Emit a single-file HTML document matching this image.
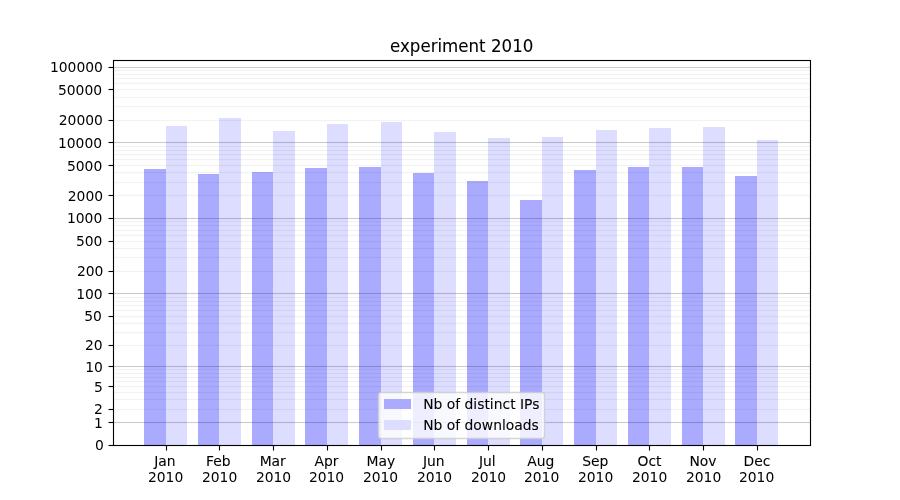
<!DOCTYPE html>
<html lang="en">
<head>
<meta charset="utf-8">
<title>experiment 2010</title>
<style>
html,body{margin:0;padding:0;background:#fff;}
body{width:900px;height:500px;overflow:hidden;}
svg{display:block;}
text{font-family:"DejaVu Sans","Liberation Sans",sans-serif;fill:#000;}
.t{font-size:13.889px;}
.tt{font-size:16.667px;}
.w{stroke:#000;stroke-width:0.07px;}
</style>
</head>
<body>
<svg width="900" height="500" viewBox="0 0 900 500">
<rect width="900" height="500" fill="#fff"/>
<g shape-rendering="crispEdges">
<rect x="144" y="169" width="22" height="276" fill="#aaaaff"/>
<rect x="166" y="126" width="21" height="319" fill="#ddddff"/>
<rect x="198" y="174" width="21" height="271" fill="#aaaaff"/>
<rect x="219" y="118" width="22" height="327" fill="#ddddff"/>
<rect x="252" y="172" width="21" height="273" fill="#aaaaff"/>
<rect x="273" y="131" width="22" height="314" fill="#ddddff"/>
<rect x="305" y="168" width="22" height="277" fill="#aaaaff"/>
<rect x="327" y="124" width="21" height="321" fill="#ddddff"/>
<rect x="359" y="167" width="22" height="278" fill="#aaaaff"/>
<rect x="381" y="122" width="21" height="323" fill="#ddddff"/>
<rect x="413" y="173" width="21" height="272" fill="#aaaaff"/>
<rect x="434" y="132" width="22" height="313" fill="#ddddff"/>
<rect x="467" y="181" width="21" height="264" fill="#aaaaff"/>
<rect x="488" y="138" width="22" height="307" fill="#ddddff"/>
<rect x="520" y="200" width="22" height="245" fill="#aaaaff"/>
<rect x="542" y="137" width="21" height="308" fill="#ddddff"/>
<rect x="574" y="170" width="22" height="275" fill="#aaaaff"/>
<rect x="596" y="130" width="21" height="315" fill="#ddddff"/>
<rect x="628" y="167" width="21" height="278" fill="#aaaaff"/>
<rect x="649" y="128" width="22" height="317" fill="#ddddff"/>
<rect x="682" y="167" width="21" height="278" fill="#aaaaff"/>
<rect x="703" y="127" width="22" height="318" fill="#ddddff"/>
<rect x="735" y="176" width="22" height="269" fill="#aaaaff"/>
<rect x="757" y="140" width="21" height="305" fill="#ddddff"/>
</g>
<g fill="#000" shape-rendering="crispEdges">
<rect x="114" y="422" width="696" height="1" fill-opacity="0.2"/><rect x="114" y="421" width="696" height="1" fill-opacity="0.0111"/><rect x="114" y="423" width="696" height="1" fill-opacity="0.0111"/>
<rect x="114" y="409" width="696" height="1" fill-opacity="0.05"/><rect x="114" y="408" width="696" height="1" fill-opacity="0.0028"/><rect x="114" y="410" width="696" height="1" fill-opacity="0.0028"/>
<rect x="114" y="399" width="696" height="1" fill-opacity="0.05"/><rect x="114" y="398" width="696" height="1" fill-opacity="0.0028"/><rect x="114" y="400" width="696" height="1" fill-opacity="0.0028"/>
<rect x="114" y="392" width="696" height="1" fill-opacity="0.05"/><rect x="114" y="391" width="696" height="1" fill-opacity="0.0028"/><rect x="114" y="393" width="696" height="1" fill-opacity="0.0028"/>
<rect x="114" y="386" width="696" height="1" fill-opacity="0.05"/><rect x="114" y="385" width="696" height="1" fill-opacity="0.0028"/><rect x="114" y="387" width="696" height="1" fill-opacity="0.0028"/>
<rect x="114" y="381" width="696" height="1" fill-opacity="0.05"/><rect x="114" y="380" width="696" height="1" fill-opacity="0.0028"/><rect x="114" y="382" width="696" height="1" fill-opacity="0.0028"/>
<rect x="114" y="377" width="696" height="1" fill-opacity="0.05"/><rect x="114" y="376" width="696" height="1" fill-opacity="0.0028"/><rect x="114" y="378" width="696" height="1" fill-opacity="0.0028"/>
<rect x="114" y="373" width="696" height="1" fill-opacity="0.05"/><rect x="114" y="372" width="696" height="1" fill-opacity="0.0028"/><rect x="114" y="374" width="696" height="1" fill-opacity="0.0028"/>
<rect x="114" y="369" width="696" height="1" fill-opacity="0.05"/><rect x="114" y="368" width="696" height="1" fill-opacity="0.0028"/><rect x="114" y="370" width="696" height="1" fill-opacity="0.0028"/>
<rect x="114" y="366" width="696" height="1" fill-opacity="0.2"/><rect x="114" y="365" width="696" height="1" fill-opacity="0.0111"/><rect x="114" y="367" width="696" height="1" fill-opacity="0.0111"/>
<rect x="114" y="345" width="696" height="1" fill-opacity="0.05"/><rect x="114" y="344" width="696" height="1" fill-opacity="0.0028"/><rect x="114" y="346" width="696" height="1" fill-opacity="0.0028"/>
<rect x="114" y="332" width="696" height="1" fill-opacity="0.05"/><rect x="114" y="331" width="696" height="1" fill-opacity="0.0028"/><rect x="114" y="333" width="696" height="1" fill-opacity="0.0028"/>
<rect x="114" y="323" width="696" height="1" fill-opacity="0.05"/><rect x="114" y="322" width="696" height="1" fill-opacity="0.0028"/><rect x="114" y="324" width="696" height="1" fill-opacity="0.0028"/>
<rect x="114" y="316" width="696" height="1" fill-opacity="0.05"/><rect x="114" y="315" width="696" height="1" fill-opacity="0.0028"/><rect x="114" y="317" width="696" height="1" fill-opacity="0.0028"/>
<rect x="114" y="310" width="696" height="1" fill-opacity="0.05"/><rect x="114" y="309" width="696" height="1" fill-opacity="0.0028"/><rect x="114" y="311" width="696" height="1" fill-opacity="0.0028"/>
<rect x="114" y="305" width="696" height="1" fill-opacity="0.05"/><rect x="114" y="304" width="696" height="1" fill-opacity="0.0028"/><rect x="114" y="306" width="696" height="1" fill-opacity="0.0028"/>
<rect x="114" y="301" width="696" height="1" fill-opacity="0.05"/><rect x="114" y="300" width="696" height="1" fill-opacity="0.0028"/><rect x="114" y="302" width="696" height="1" fill-opacity="0.0028"/>
<rect x="114" y="297" width="696" height="1" fill-opacity="0.05"/><rect x="114" y="296" width="696" height="1" fill-opacity="0.0028"/><rect x="114" y="298" width="696" height="1" fill-opacity="0.0028"/>
<rect x="114" y="293" width="696" height="1" fill-opacity="0.2"/><rect x="114" y="292" width="696" height="1" fill-opacity="0.0111"/><rect x="114" y="294" width="696" height="1" fill-opacity="0.0111"/>
<rect x="114" y="271" width="696" height="1" fill-opacity="0.05"/><rect x="114" y="270" width="696" height="1" fill-opacity="0.0028"/><rect x="114" y="272" width="696" height="1" fill-opacity="0.0028"/>
<rect x="114" y="257" width="696" height="1" fill-opacity="0.05"/><rect x="114" y="256" width="696" height="1" fill-opacity="0.0028"/><rect x="114" y="258" width="696" height="1" fill-opacity="0.0028"/>
<rect x="114" y="248" width="696" height="1" fill-opacity="0.05"/><rect x="114" y="247" width="696" height="1" fill-opacity="0.0028"/><rect x="114" y="249" width="696" height="1" fill-opacity="0.0028"/>
<rect x="114" y="241" width="696" height="1" fill-opacity="0.05"/><rect x="114" y="240" width="696" height="1" fill-opacity="0.0028"/><rect x="114" y="242" width="696" height="1" fill-opacity="0.0028"/>
<rect x="114" y="235" width="696" height="1" fill-opacity="0.05"/><rect x="114" y="234" width="696" height="1" fill-opacity="0.0028"/><rect x="114" y="236" width="696" height="1" fill-opacity="0.0028"/>
<rect x="114" y="230" width="696" height="1" fill-opacity="0.05"/><rect x="114" y="229" width="696" height="1" fill-opacity="0.0028"/><rect x="114" y="231" width="696" height="1" fill-opacity="0.0028"/>
<rect x="114" y="225" width="696" height="1" fill-opacity="0.05"/><rect x="114" y="224" width="696" height="1" fill-opacity="0.0028"/><rect x="114" y="226" width="696" height="1" fill-opacity="0.0028"/>
<rect x="114" y="221" width="696" height="1" fill-opacity="0.05"/><rect x="114" y="220" width="696" height="1" fill-opacity="0.0028"/><rect x="114" y="222" width="696" height="1" fill-opacity="0.0028"/>
<rect x="114" y="218" width="696" height="1" fill-opacity="0.2"/><rect x="114" y="217" width="696" height="1" fill-opacity="0.0111"/><rect x="114" y="219" width="696" height="1" fill-opacity="0.0111"/>
<rect x="114" y="195" width="696" height="1" fill-opacity="0.05"/><rect x="114" y="194" width="696" height="1" fill-opacity="0.0028"/><rect x="114" y="196" width="696" height="1" fill-opacity="0.0028"/>
<rect x="114" y="182" width="696" height="1" fill-opacity="0.05"/><rect x="114" y="181" width="696" height="1" fill-opacity="0.0028"/><rect x="114" y="183" width="696" height="1" fill-opacity="0.0028"/>
<rect x="114" y="172" width="696" height="1" fill-opacity="0.05"/><rect x="114" y="171" width="696" height="1" fill-opacity="0.0028"/><rect x="114" y="173" width="696" height="1" fill-opacity="0.0028"/>
<rect x="114" y="165" width="696" height="1" fill-opacity="0.05"/><rect x="114" y="164" width="696" height="1" fill-opacity="0.0028"/><rect x="114" y="166" width="696" height="1" fill-opacity="0.0028"/>
<rect x="114" y="159" width="696" height="1" fill-opacity="0.05"/><rect x="114" y="158" width="696" height="1" fill-opacity="0.0028"/><rect x="114" y="160" width="696" height="1" fill-opacity="0.0028"/>
<rect x="114" y="154" width="696" height="1" fill-opacity="0.05"/><rect x="114" y="153" width="696" height="1" fill-opacity="0.0028"/><rect x="114" y="155" width="696" height="1" fill-opacity="0.0028"/>
<rect x="114" y="150" width="696" height="1" fill-opacity="0.05"/><rect x="114" y="149" width="696" height="1" fill-opacity="0.0028"/><rect x="114" y="151" width="696" height="1" fill-opacity="0.0028"/>
<rect x="114" y="146" width="696" height="1" fill-opacity="0.05"/><rect x="114" y="145" width="696" height="1" fill-opacity="0.0028"/><rect x="114" y="147" width="696" height="1" fill-opacity="0.0028"/>
<rect x="114" y="142" width="696" height="1" fill-opacity="0.2"/><rect x="114" y="141" width="696" height="1" fill-opacity="0.0111"/><rect x="114" y="143" width="696" height="1" fill-opacity="0.0111"/>
<rect x="114" y="120" width="696" height="1" fill-opacity="0.05"/><rect x="114" y="119" width="696" height="1" fill-opacity="0.0028"/><rect x="114" y="121" width="696" height="1" fill-opacity="0.0028"/>
<rect x="114" y="106" width="696" height="1" fill-opacity="0.05"/><rect x="114" y="105" width="696" height="1" fill-opacity="0.0028"/><rect x="114" y="107" width="696" height="1" fill-opacity="0.0028"/>
<rect x="114" y="97" width="696" height="1" fill-opacity="0.05"/><rect x="114" y="96" width="696" height="1" fill-opacity="0.0028"/><rect x="114" y="98" width="696" height="1" fill-opacity="0.0028"/>
<rect x="114" y="89" width="696" height="1" fill-opacity="0.05"/><rect x="114" y="88" width="696" height="1" fill-opacity="0.0028"/><rect x="114" y="90" width="696" height="1" fill-opacity="0.0028"/>
<rect x="114" y="83" width="696" height="1" fill-opacity="0.05"/><rect x="114" y="82" width="696" height="1" fill-opacity="0.0028"/><rect x="114" y="84" width="696" height="1" fill-opacity="0.0028"/>
<rect x="114" y="78" width="696" height="1" fill-opacity="0.05"/><rect x="114" y="77" width="696" height="1" fill-opacity="0.0028"/><rect x="114" y="79" width="696" height="1" fill-opacity="0.0028"/>
<rect x="114" y="74" width="696" height="1" fill-opacity="0.05"/><rect x="114" y="73" width="696" height="1" fill-opacity="0.0028"/><rect x="114" y="75" width="696" height="1" fill-opacity="0.0028"/>
<rect x="114" y="70" width="696" height="1" fill-opacity="0.05"/><rect x="114" y="69" width="696" height="1" fill-opacity="0.0028"/><rect x="114" y="71" width="696" height="1" fill-opacity="0.0028"/>
<rect x="114" y="67" width="696" height="1" fill-opacity="0.2"/><rect x="114" y="66" width="696" height="1" fill-opacity="0.0111"/><rect x="114" y="68" width="696" height="1" fill-opacity="0.0111"/>
</g>
<g stroke="#000" stroke-width="1.1111" fill="none">
<line x1="166.5" x2="166.5" y1="445.5" y2="450.5"/>
<line x1="219.5" x2="219.5" y1="445.5" y2="450.5"/>
<line x1="273.5" x2="273.5" y1="445.5" y2="450.5"/>
<line x1="327.5" x2="327.5" y1="445.5" y2="450.5"/>
<line x1="381.5" x2="381.5" y1="445.5" y2="450.5"/>
<line x1="434.5" x2="434.5" y1="445.5" y2="450.5"/>
<line x1="488.5" x2="488.5" y1="445.5" y2="450.5"/>
<line x1="542.5" x2="542.5" y1="445.5" y2="450.5"/>
<line x1="596.5" x2="596.5" y1="445.5" y2="450.5"/>
<line x1="649.5" x2="649.5" y1="445.5" y2="450.5"/>
<line x1="703.5" x2="703.5" y1="445.5" y2="450.5"/>
<line x1="757.5" x2="757.5" y1="445.5" y2="450.5"/>
<line x1="108.5" x2="113.5" y1="445.5" y2="445.5"/>
<line x1="108.5" x2="113.5" y1="422.5" y2="422.5"/>
<line x1="108.5" x2="113.5" y1="409.5" y2="409.5"/>
<line x1="108.5" x2="113.5" y1="386.5" y2="386.5"/>
<line x1="108.5" x2="113.5" y1="366.5" y2="366.5"/>
<line x1="108.5" x2="113.5" y1="345.5" y2="345.5"/>
<line x1="108.5" x2="113.5" y1="316.5" y2="316.5"/>
<line x1="108.5" x2="113.5" y1="293.5" y2="293.5"/>
<line x1="108.5" x2="113.5" y1="271.5" y2="271.5"/>
<line x1="108.5" x2="113.5" y1="241.5" y2="241.5"/>
<line x1="108.5" x2="113.5" y1="218.5" y2="218.5"/>
<line x1="108.5" x2="113.5" y1="195.5" y2="195.5"/>
<line x1="108.5" x2="113.5" y1="165.5" y2="165.5"/>
<line x1="108.5" x2="113.5" y1="142.5" y2="142.5"/>
<line x1="108.5" x2="113.5" y1="120.5" y2="120.5"/>
<line x1="108.5" x2="113.5" y1="89.5" y2="89.5"/>
<line x1="108.5" x2="113.5" y1="67.5" y2="67.5"/>
<rect x="113.5" y="60.5" width="697" height="385"/>
</g>
<g class="t" text-anchor="middle">
<text class="w" x="164.90" y="466.00">Jan</text>
<text x="165.57" y="482.00">2010</text>
<text class="w" x="218.26" y="466.00">Feb</text>
<text x="219.57" y="482.00">2010</text>
<text class="w" x="272.74" y="466.00">Mar</text>
<text x="273.56" y="482.00">2010</text>
<text class="w" x="326.50" y="466.00">Apr</text>
<text x="326.56" y="482.00">2010</text>
<text class="w" x="380.84" y="466.00">May</text>
<text x="380.56" y="482.00">2010</text>
<text class="w" x="433.81" y="466.00">Jun</text>
<text x="434.56" y="482.00">2010</text>
<text class="w" x="487.26" y="466.00">Jul</text>
<text x="488.56" y="482.00">2010</text>
<text class="w" x="540.71" y="466.00">Aug</text>
<text x="541.57" y="482.00">2010</text>
<text class="w" x="595.21" y="466.00">Sep</text>
<text x="595.57" y="482.00">2010</text>
<text class="w" x="649.49" y="466.00">Oct</text>
<text x="649.57" y="482.00">2010</text>
<text class="w" x="703.00" y="466.00">Nov</text>
<text x="703.57" y="482.00">2010</text>
<text class="w" x="756.91" y="466.00">Dec</text>
<text x="756.57" y="482.00">2010</text>
</g>
<g class="t" text-anchor="end">
<text x="103.78" y="450.00">0</text>
<text x="102.74" y="428.00">1</text>
<text x="102.81" y="414.00">2</text>
<text x="102.74" y="392.00">5</text>
<text x="102.88" y="372.00">10</text>
<text x="102.62" y="350.00">20</text>
<text x="101.81" y="321.00">50</text>
<text x="102.69" y="299.00">100</text>
<text x="103.38" y="276.00">200</text>
<text x="102.44" y="246.00">500</text>
<text x="102.29" y="223.00">1000</text>
<text x="103.12" y="201.00">2000</text>
<text x="102.28" y="171.00">5000</text>
<text x="102.11" y="148.00">10000</text>
<text x="102.95" y="125.00">20000</text>
<text x="102.10" y="95.00">50000</text>
<text x="102.92" y="72.00">100000</text>
</g>
<text class="tt w" text-anchor="middle" transform="translate(461.67 52.00) scale(1 1.0833)">experiment 2010</text>
<rect x="378.5" y="392.5" width="166" height="46" rx="2.78" ry="2.78" fill="#fff" fill-opacity="0.8" stroke="#ccc" stroke-opacity="0.8" stroke-width="1.389"/>
<rect x="384" y="399" width="27" height="10" fill="#aaaaff"/>
<rect x="384" y="420" width="27" height="10" fill="#ddddff"/>
<text class="t w" x="423.15" y="408.56">Nb of distinct IPs</text>
<text class="t w" x="423.15" y="429.50">Nb of downloads</text>
</svg>
</body>
</html>
